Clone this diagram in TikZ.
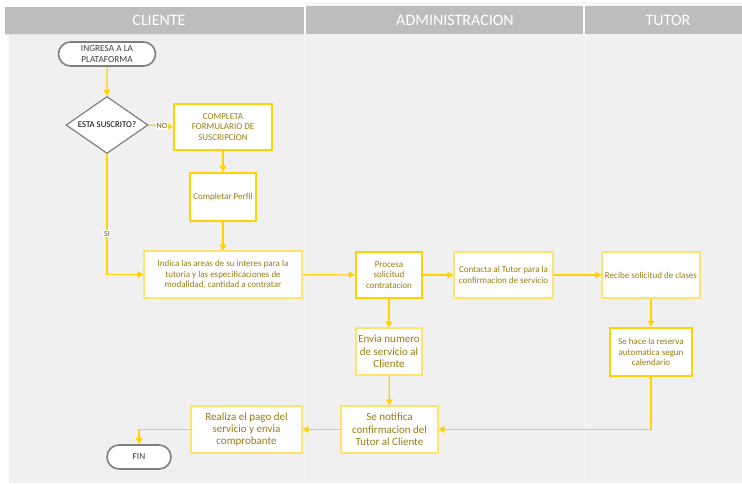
\documentclass[tikz,border=0pt]{standalone}
\usepackage{fontspec}
\setmainfont{Carlito}
\usetikzlibrary{shapes.geometric,shapes.misc,arrows.meta}
\definecolor{lanebg}{HTML}{F0F0F0}
\definecolor{hdr}{HTML}{BDBDBD}
\definecolor{gold}{HTML}{FFD200}
\definecolor{goldl}{HTML}{FFE36E}
\definecolor{txt}{HTML}{9A7B12}
\definecolor{termc}{HTML}{7F7F7F}
\definecolor{termtxt}{HTML}{404040}
\tikzset{
  hdrbox/.style={fill=hdr, draw=none},
  hdrtxt/.style={text=white, font=\fontsize{16}{18}\selectfont},
  box/.style={draw=goldl, line width=1.1pt, fill=white, text=txt, align=center,
    font=\fontsize{9}{10.8}\selectfont, inner sep=1pt},
  boxb/.style={box, draw=gold, line width=2.3pt},
  bigtxt/.style={font=\fontsize{11}{12.4}\selectfont},
  termbox/.style={rounded rectangle, draw=termc, line width=1.6pt, fill=white,
    text=termtxt, align=center, font=\fontsize{9.3}{11.5}\selectfont, inner sep=1pt},
  decision/.style={diamond, draw=termc, line width=1.2pt, fill=white, text=black,
    font=\fontsize{8.8}{10}\selectfont, inner sep=0pt, aspect=1.45},
  flow/.style={draw=gold, line width=1.2pt, -{Triangle[length=6pt,width=6.5pt]}},
  lbl/.style={fill=white, text=txt!70!black, font=\fontsize{8}{9}\selectfont, inner sep=1pt}
}
\begin{document}
\begin{tikzpicture}[x=1pt,y=-1pt]
\useasboundingbox (0,0) rectangle (742,483);
\fill[white] (0,0) rectangle (742,483);
% lanes
\fill[lanebg] (9,34) rectangle (742,483);
\fill[black!3] (305,2) rectangle (742,6);
\draw[white!96!black, line width=0.8pt] (305,34) -- (305,483);
\draw[white!96!black, line width=0.8pt] (585,34) -- (585,483);
\fill[hdrbox] (5,7) rectangle (304,34);
\fill[hdrbox] (306,6) rectangle (583,34);
\fill[hdrbox] (585,6) rectangle (742,34);
\draw[white!90!black, line width=0.6pt] (5,34.5) -- (304,34.5);
\node[hdrtxt] (hcli) at (159,20.5) {CLIENTE};
\node[hdrtxt] (hadm) at (455,20) {ADMINISTRACION};
\node[hdrtxt] (htut) at (668,20) {TUTOR};
% nodes
\node[termbox, minimum width=99pt, minimum height=24pt] (ing) at (107,54) {INGRESA A LA\\PLATAFORMA};
\node[decision, minimum width=82pt, minimum height=57pt] (sus) at (107,125) {ESTA SUSCRITO?};
\node[boxb, minimum width=98pt, minimum height=46pt] (form) at (223,127) {COMPLETA\\FORMULARIO DE\\SUSCRIPCION};
\node[boxb, minimum width=66pt, minimum height=48pt] (perf) at (223,197) {Completar Perfil};
\node[box, minimum width=158pt, minimum height=47pt] (ind) at (223,274.5) {Indica las areas de su interes para la\\tutoria y las especificaciones de\\modalidad, cantidad a contratar};
\node[boxb, minimum width=66pt, minimum height=46pt] (proc) at (389,275) {Procesa\\solicitud\\contratacion};
\node[box, minimum width=99pt, minimum height=46pt] (cont) at (503.5,275) {Contacta al Tutor para la\\confirmacion de servicio};
\node[box, minimum width=98pt, minimum height=46pt] (rec) at (651,275) {Recibe solicitud de clases};
\node[box, bigtxt, minimum width=66pt, minimum height=47pt] (env) at (389,351.5) {Envia numero\\de servicio al\\Cliente};
\node[boxb, minimum width=82pt, minimum height=48pt] (res) at (651,352) {Se hace la reserva\\automatica segun\\calendario};
\node[box, bigtxt, minimum width=97pt, minimum height=47pt] (notif) at (389.5,429.5) {Se notifica\\confirmacion del\\Tutor al Cliente};
\node[box, bigtxt, minimum width=111pt, minimum height=47pt] (real) at (246.5,429.5) {Realiza el pago del\\servicio y envia\\comprobante};
\node[termbox, minimum width=66pt, minimum height=24pt] (fin) at (139,457) {FIN};
% connectors
\draw[flow] (ing) -- (sus);
\draw[flow] (sus.east) -- node[lbl, pos=0.55] (lno) {NO} (form.west);
\draw[flow] (sus.south) |- node[lbl, pos=0.33] (lsi) {SI} (ind.west);
\draw[flow] (form) -- (perf);
\draw[flow] (perf) -- (ind);
\draw[flow] (ind) -- (proc);
\draw[flow] (proc) -- (cont);
\draw[flow] (cont) -- (rec);
\draw[flow] (proc) -- (env);
\draw[flow] (rec) -- (res);
\draw[flow] (env) -- (notif);
\draw[flow] (res.south) |- (notif.east);
\draw[flow] (notif) -- (real);
\draw[flow] (real.west) -| (fin.north);
\end{tikzpicture}
\end{document}
